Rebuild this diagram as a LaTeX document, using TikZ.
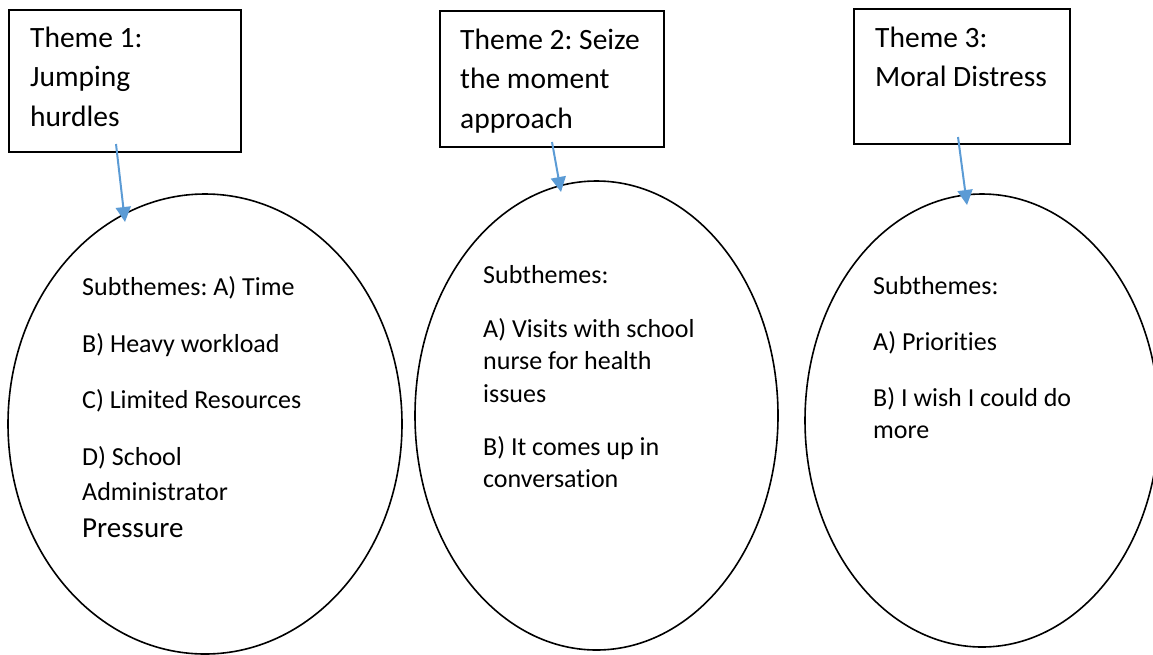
\documentclass[tikz,border=0pt]{standalone}
\usepackage{fontspec}
\setmainfont{Carlito}[Ligatures=NoCommon]
\usetikzlibrary{shapes.geometric,arrows.meta}
\definecolor{arrowblue}{RGB}{91,155,213}
\frenchspacing
\begin{document}
\begin{tikzpicture}[x=1pt,y=-1pt,
  themebox/.style={draw=black,line width=1.9pt,rectangle,inner sep=0pt,anchor=north west},
  subell/.style={draw=black,line width=1.6pt,ellipse,inner sep=0pt},
  themetext/.style={anchor=base west,inner sep=0pt,font=\fontsize{29.5}{39.5}\selectfont},
  subtext/.style={anchor=base west,inner sep=0pt,font=\fontsize{26}{32.5}\selectfont},
  connector/.style={draw=arrowblue,line width=2pt,-{Triangle[length=15pt,width=15pt]}}]
\useasboundingbox (0,0) rectangle (1153,654);
\clip (0,0) rectangle (1153,654);
% theme boxes
\node[themebox,minimum width=232pt,minimum height=142pt] (b1) at (8,9) {};
\node[themebox,minimum width=224pt,minimum height=136pt] (b2) at (439,10) {};
\node[themebox,minimum width=216pt,minimum height=135pt] (b3) at (853,8) {};
\node[themetext] (t1) at (30,47) {\begin{tabular}[t]{@{}l@{}}Theme 1:\\Jumping\\hurdles\end{tabular}};
\node[themetext] (t2) at (460,49) {\begin{tabular}[t]{@{}l@{}}Theme 2: Seize\\the moment\\approach\end{tabular}};
\node[themetext] (t3) at (875,47) {\begin{tabular}[t]{@{}l@{}}Theme 3:\\Moral Distress\end{tabular}};
% ellipses
\node[subell,minimum width=394pt,minimum height=460pt] (e1) at (205,424) {};
\node[subell,minimum width=363pt,minimum height=469pt] (e2) at (596.5,415.5) {};
\node[subell,minimum width=354pt,minimum height=453pt] (e3) at (982,420.5) {};
% ellipse 1 text
\node[subtext] (s1a) at (82,295) {Subthemes: A) Time};
\node[subtext] (s1b) at (82,352) {B) Heavy workload};
\node[subtext] (s1c) at (82,408) {C) Limited Resources};
\node[subtext] (s1d) at (82,465) {D) School};
\node[subtext] (s1e) at (82,500) {Administrator};
\node[anchor=base west,inner sep=0pt,font=\fontsize{29}{36}\selectfont] (s1f) at (82,537) {Pressure};
% ellipse 2 text
\node[subtext] (s2a) at (483,283) {Subthemes:};
\node[subtext] (s2b) at (483,337) {\begin{tabular}[t]{@{}l@{}}A) Visits with school\\nurse for health\\issues\end{tabular}};
\node[subtext] (s2c) at (483,455) {\begin{tabular}[t]{@{}l@{}}B) It comes up in\\conversation\end{tabular}};
% ellipse 3 text
\node[subtext] (s3a) at (873,294) {Subthemes:};
\node[subtext] (s3b) at (873,350) {A) Priorities};
\node[subtext] (s3c) at (873,406) {\begin{tabular}[t]{@{}l@{}}B) I wish I could do\\more\end{tabular}};
% connectors
\coordinate (a1s) at (116,144);
\coordinate (a1e) at (125,222);
\coordinate (a2s) at (552,142);
\coordinate (a2e) at (561,192);
\coordinate (a3s) at (958,137);
\coordinate (a3e) at (967,205);
\draw[connector] (a1s) -- (a1e);
\draw[connector] (a2s) -- (a2e);
\draw[connector] (a3s) -- (a3e);
\end{tikzpicture}
\end{document}
